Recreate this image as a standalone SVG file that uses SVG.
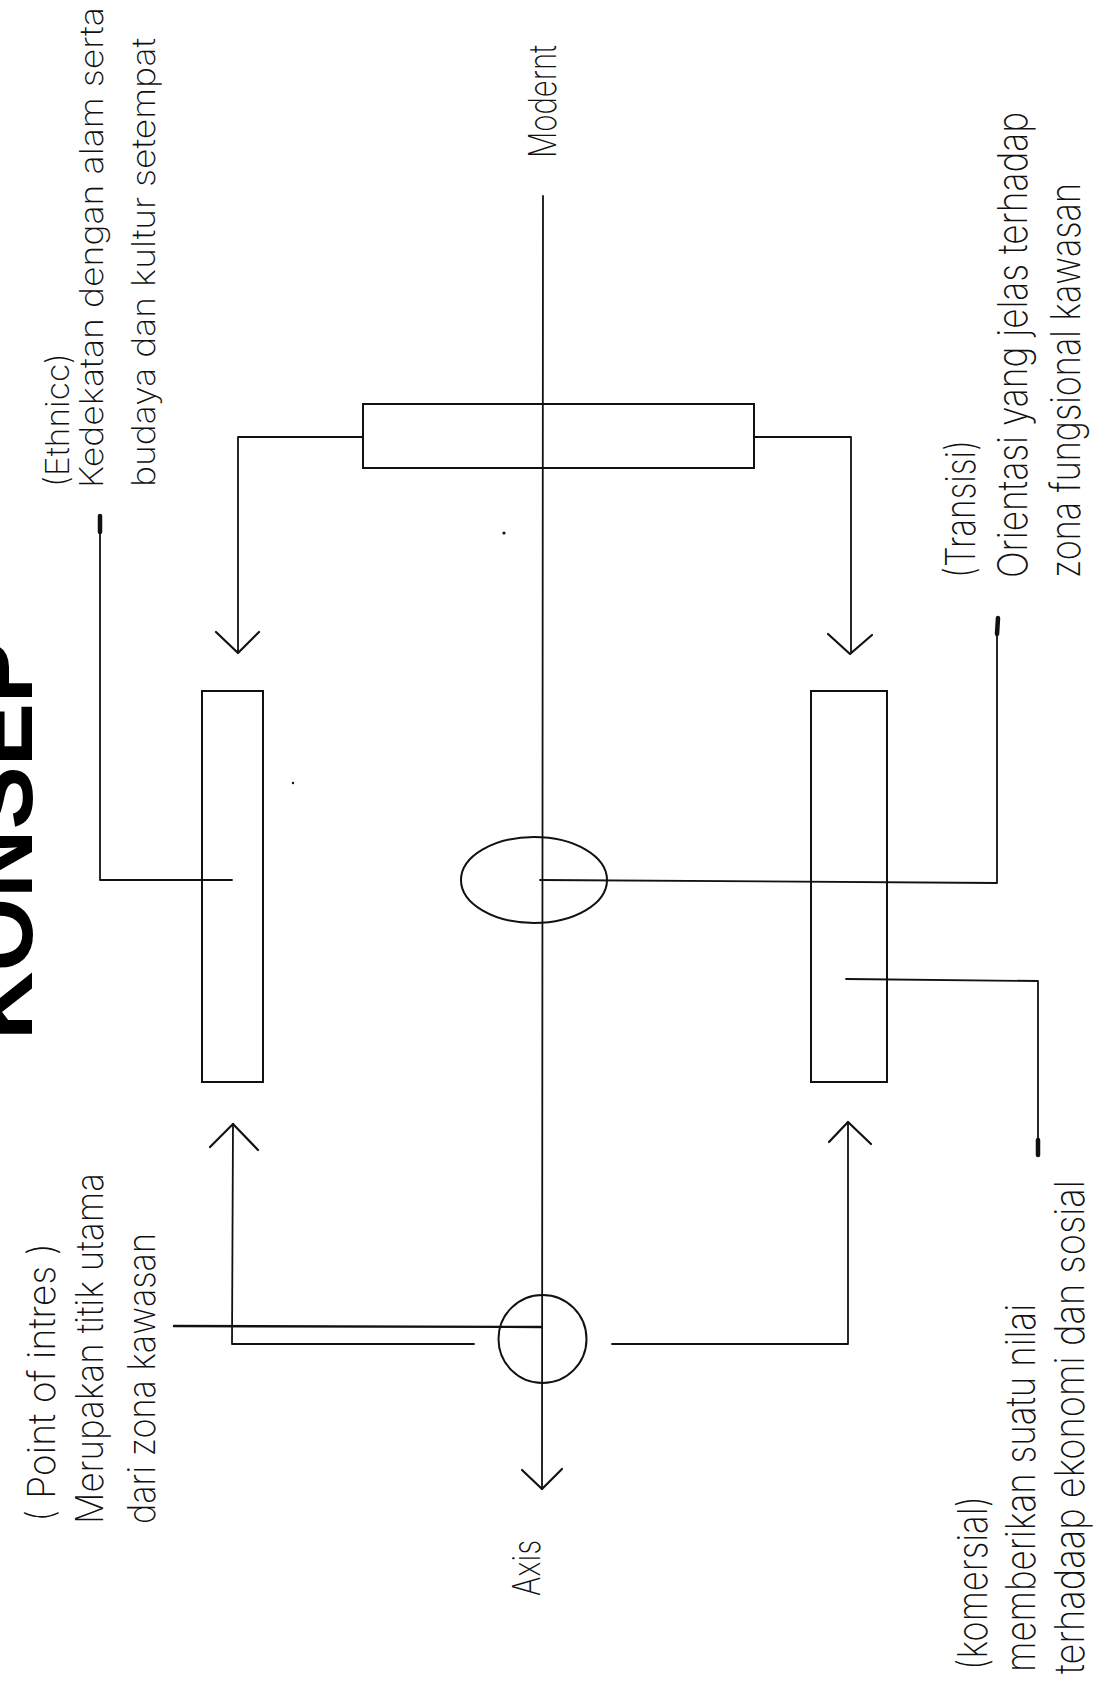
<svg xmlns="http://www.w3.org/2000/svg" width="1107" height="1682" viewBox="0 0 1107 1682">
<style>
  .ln { fill: none; stroke: #111; stroke-width: 1.8; stroke-linecap: round; stroke-linejoin: round; }
  .bx { fill: none; stroke: #111; stroke-width: 2; }
  .ar { fill: none; stroke: #111; stroke-width: 2.2; stroke-linecap: round; stroke-linejoin: round; }
  .tk { fill: none; stroke: #111; stroke-width: 4.5; stroke-linecap: round; }
  .lbl { font-family: "Inter", "Open Sans", "DejaVu Sans", sans-serif; font-weight: 200; font-size: 38px; fill: #111; }
  .s33 { font-size: 33px; }
  .s41 { font-size: 41px; }
  .title { font-family: "Liberation Sans", Arial, sans-serif; font-weight: bold; font-size: 94px; fill: #000; }
</style>
<rect width="1107" height="1682" fill="#fff"/>

<g id="title">
  <text class="title" transform="translate(32,1040) rotate(-90)" textLength="400" lengthAdjust="spacingAndGlyphs">KONSEP</text>
</g>

<g id="connectors">
  <!-- main axis -->
  <line class="ln" x1="543" y1="196" x2="542" y2="1489"/>
  <polyline class="ar" points="522,1470 542,1489 562,1469"/>
  <!-- top box branches -->
  <polyline class="ln" points="363,437 238,437 238,652"/>
  <polyline class="ar" points="216,632 238,653 259,632"/>
  <polyline class="ln" points="754,437 851,437 851,653"/>
  <polyline class="ar" points="828,634 850,654 872,635"/>
  <!-- Ethnicc leader -->
  <polyline class="ln" points="100,520 100,880 232,880"/>
  <line class="tk" x1="100" y1="516" x2="100" y2="532"/>
  <!-- Transisi leader -->
  <polyline class="ln" points="540,880 997,883 997,632"/>
  <line class="tk" x1="998" y1="618" x2="997" y2="634"/>
  <!-- Komersial leader -->
  <polyline class="ln" points="846,979 1038,981 1038,1150"/>
  <line class="tk" x1="1038" y1="1140" x2="1038" y2="1155"/>
  <!-- bottom left up arrow -->
  <polyline class="ln" points="474,1344 232,1344 233,1124"/>
  <polyline class="ar" points="210,1147 233,1124 258,1150"/>
  <!-- bottom right up arrow -->
  <polyline class="ln" points="612,1344 848,1344 848,1122"/>
  <polyline class="ar" points="829,1142 848,1122 871,1144"/>
  <!-- Point of intres leader -->
  <line class="ln" x1="174" y1="1326" x2="541" y2="1327" style="stroke-width:2.4"/>
</g>

<g id="node-top-box">
  <rect class="bx" x="363" y="404" width="391" height="64"/>
</g>
<g id="node-left-box">
  <rect class="bx" x="202" y="691" width="61" height="391"/>
</g>
<g id="node-right-box">
  <rect class="bx" x="811" y="691" width="76" height="391"/>
</g>
<g id="node-ellipse">
  <ellipse class="bx" cx="534" cy="880" rx="73" ry="43"/>
</g>
<g id="node-circle">
  <circle class="bx" cx="542.5" cy="1339" r="44"/>
</g>

<g id="specks">
  <circle cx="504" cy="533" r="1.6" fill="#111"/>
  <circle cx="293" cy="783" r="1.2" fill="#111"/>
</g>

<g id="label-modernt">
  <text class="lbl" transform="translate(556,158) rotate(-90)" textLength="113" lengthAdjust="spacingAndGlyphs">Modernt</text>
</g>

<g id="label-ethnicc">
  <text class="lbl s33" transform="translate(69,487) rotate(-90)" textLength="134" lengthAdjust="spacingAndGlyphs">(Ethnicc)</text>
  <text class="lbl s33" transform="translate(103,488) rotate(-90)" textLength="481" lengthAdjust="spacingAndGlyphs">Kedekatan dengan alam serta</text>
  <text class="lbl s33" transform="translate(155,487) rotate(-90)" textLength="449" lengthAdjust="spacingAndGlyphs">budaya dan kultur setempat</text>
</g>

<g id="label-transisi">
  <text class="lbl s41" transform="translate(975,578) rotate(-90)" textLength="138" lengthAdjust="spacingAndGlyphs">(Transisi)</text>
  <text class="lbl s41" transform="translate(1027,578) rotate(-90)" textLength="466" lengthAdjust="spacingAndGlyphs">Orientasi yang jelas terhadap</text>
  <text class="lbl s41" transform="translate(1080,578) rotate(-90)" textLength="395" lengthAdjust="spacingAndGlyphs">zona fungsional kawasan</text>
</g>

<g id="label-point">
  <text class="lbl" transform="translate(55,1522) rotate(-90)" textLength="279" lengthAdjust="spacingAndGlyphs">( Point of intres )</text>
  <text class="lbl" transform="translate(103,1524) rotate(-90)" textLength="351" lengthAdjust="spacingAndGlyphs">Merupakan titik utama</text>
  <text class="lbl" transform="translate(155,1524) rotate(-90)" textLength="291" lengthAdjust="spacingAndGlyphs">dari zona kawasan</text>
</g>

<g id="label-axis">
  <text class="lbl" transform="translate(540,1596) rotate(-90)" textLength="56" lengthAdjust="spacingAndGlyphs">Axis</text>
</g>

<g id="label-komersial">
  <text class="lbl s41" transform="translate(987,1670) rotate(-90)" textLength="174" lengthAdjust="spacingAndGlyphs">(komersial)</text>
  <text class="lbl s41" transform="translate(1035,1672) rotate(-90)" textLength="368" lengthAdjust="spacingAndGlyphs">memberikan suatu nilai</text>
  <text class="lbl s41" transform="translate(1084,1674) rotate(-90)" textLength="494" lengthAdjust="spacingAndGlyphs">terhadaap ekonomi dan sosial</text>
</g>
</svg>
